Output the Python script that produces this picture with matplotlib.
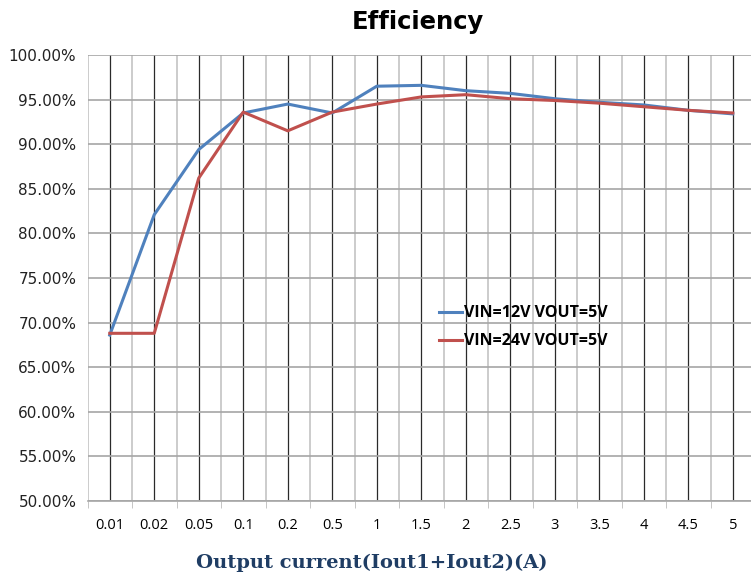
import matplotlib
matplotlib.use("Agg")
import matplotlib.pyplot as plt
from matplotlib.ticker import FuncFormatter, MultipleLocator, FixedLocator

categories = ["0.01", "0.02", "0.05", "0.1", "0.2", "0.5", "1", "1.5", "2",
              "2.5", "3", "3.5", "4", "4.5", "5"]
vin12 = [68.6, 82.1, 89.4, 93.5, 94.5, 93.5, 96.5, 96.6, 96.0, 95.7, 95.1,
         94.7, 94.4, 93.8, 93.4]
vin24 = [68.8, 68.8, 86.2, 93.6, 91.5, 93.6, 94.5, 95.3, 95.55, 95.1, 94.9,
         94.6, 94.2, 93.8, 93.5]
series_names = ["VIN=12V VOUT=5V", "VIN=24V VOUT=5V"]

fig = plt.figure(figsize=(7.51, 5.79), dpi=100)
ax = fig.add_axes([87.5 / 751, 1 - 501 / 579, (755 - 87.5) / 751, (501 - 55) / 579])

x = list(range(len(categories)))
ax.set_xlim(-0.5, len(categories) - 0.5)
ax.set_ylim(50, 100)

# grid lines
for xi in x:
    ax.axvline(xi, color="#2A2A2A", lw=0.9, zorder=1)
for b in range(len(categories) + 1):
    ax.axvline(b - 0.5, color="#C4C4C4", lw=1.2, zorder=1)
ax.yaxis.set_major_locator(MultipleLocator(5))
ax.grid(axis="y", color="#A6A6A6", lw=1.2, zorder=1)

l1, = ax.plot(x, vin12, color="#4F81BD", lw=2.2, zorder=3, label=series_names[0])
l2, = ax.plot(x, vin24, color="#C0504D", lw=2.2, zorder=3, label=series_names[1])

ax.set_xticks(x)
ax.set_xticklabels(categories, fontsize=10.5, family="Open Sans")
ax.xaxis.set_minor_locator(FixedLocator([b - 0.5 for b in range(len(categories) + 1)]))
ax.tick_params(axis="x", which="major", length=0, pad=12)
ax.tick_params(axis="x", which="minor", length=5, color="#BBBBBB")
ax.yaxis.set_major_formatter(FuncFormatter(lambda v, p: f"{v:.2f}%"))
ax.tick_params(axis="y", length=0, labelsize=11, pad=8)
for lab in ax.get_yticklabels():
    lab.set_family("DejaVu Sans")
    lab.set_color("#222222")

for s in ["top", "right", "left"]:
    ax.spines[s].set_visible(False)
ax.spines["bottom"].set_color("#A6A6A6")
ax.spines["bottom"].set_linewidth(1.2)

leg = ax.legend(loc="upper left", bbox_to_anchor=((425 - 87.5) / 667.5, 1 - (291 - 55) / 446),
                frameon=False, handlelength=1.4, handletextpad=0.15, labelspacing=0.75,
                prop={"weight": "bold", "size": 11.5, "family": "Open Sans"})

fig.text(418 / 751, 1 - 22 / 579, "Efficiency", ha="center", va="center",
         fontsize=17.5, fontweight="bold", family="DejaVu Sans")
fig.text(372 / 751, 1 - 563 / 579, "Output current(Iout1+Iout2)(A)", ha="center",
         va="center", fontsize=14, fontweight="bold", family="DejaVu Serif",
         color="#1F3D64")

fig.savefig("out.png", dpi=100)
